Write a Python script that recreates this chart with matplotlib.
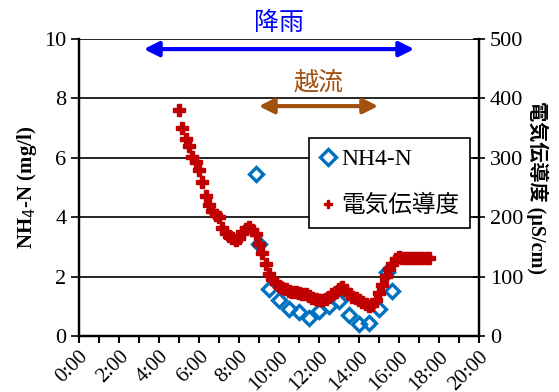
import matplotlib
matplotlib.use("Agg")
import matplotlib.pyplot as plt
from matplotlib.lines import Line2D

# 電気伝導度 (10分間隔)
ec_start = "5:00"
ec_values = [380, 350, 332, 320, 301, 293, 280, 259, 236, 221, 210, 204,
             200, 182, 173, 168, 165, 162, 165, 175, 180, 183, 178, 172,
             155, 140, 121, 104, 96, 89, 84, 81, 79, 76, 74, 74,
             72, 71, 71, 67, 64, 62, 61, 61, 62, 66, 71, 74,
             79, 82, 77, 71, 66, 64, 61, 57, 54, 50, 52, 61,
             72, 86, 101, 113, 121, 130, 133, 132, 132, 132, 132, 132,
             132, 132, 132, 132]

# NH4-N
nh4_times = ["8:50", "9:00", "9:30", "10:00", "10:30", "11:00", "11:30", "12:00",
             "12:30", "13:00", "13:30", "14:00", "14:30", "15:00", "15:25", "15:40"]
nh4_values = [5.44, 3.1, 1.57, 1.2, 0.92, 0.8, 0.6, 0.83,
              1.02, 1.19, 0.71, 0.4, 0.45, 0.9, 2.15, 1.5]

xtick_labels = ["0:00", "2:00", "4:00", "6:00", "8:00", "10:00",
                "12:00", "14:00", "16:00", "18:00", "20:00"]


def to_hours(s):
    h, m = s.split(":")
    return int(h) + int(m) / 60


t0 = to_hours(ec_start)
ec_t = [t0 + i / 6 for i in range(len(ec_values))]
nh4_t = [to_hours(s) for s in nh4_times]

serif = ["Liberation Serif", "Noto Sans CJK JP"]
cjk = ["Noto Sans CJK JP", "DejaVu Sans"]

fig = plt.figure(figsize=(5.59, 3.92), dpi=100)
ax = fig.add_axes([79 / 559, 1 - 336 / 392, 400 / 559, 297 / 392])
ax2 = ax.twinx()

ax.plot(nh4_t, nh4_values, linestyle="none", marker="D", ms=7.5, mfc="none",
        mec="#0070C0", mew=2.4, clip_on=False)
ax2.plot(ec_t, ec_values, linestyle="none", marker="P", ms=8,
         color="#C00000", mec="#C00000", clip_on=False)

ax.set_xlim(0, 20)
ax.set_ylim(0, 10)
ax2.set_ylim(0, 500)
ax.set_xticks(range(0, 21, 2))
ax.set_xticks(range(0, 21, 1), minor=True)
ax.set_xticklabels(xtick_labels, rotation=45, ha="right", rotation_mode="anchor",
                   family=serif, fontsize=15)
ax.set_yticks(range(0, 11, 2))
ax2.set_yticks(range(0, 501, 100))
for lab in ax.get_yticklabels() + ax2.get_yticklabels():
    lab.set_family(serif)
    lab.set_fontsize(16)

ax.grid(axis="y", color="black", lw=1.2)
ax.set_axisbelow(True)
ax.tick_params(axis="x", which="both", direction="out", length=5, width=1.5, pad=3)
ax.tick_params(axis="y", direction="out", length=6, width=1.2, pad=3)
ax2.tick_params(axis="y", direction="inout", length=8, width=1.2, pad=4)

for a in (ax, ax2):
    a.spines["top"].set_visible(False)
    for s in ("left", "right", "bottom"):
        a.spines[s].set_linewidth(1.6)

ax.set_ylabel("NH$_4$-N (mg/l)", family=serif, fontsize=15, fontweight="bold", labelpad=4)
ax2.set_ylabel("電気伝導度 (μS/cm)", family=serif, fontsize=14.5, fontweight="bold",
               rotation=270, labelpad=18)

# 降雨・越流の矢印
ax.annotate("", xy=(3.1, 9.66), xytext=(16.9, 9.66),
            arrowprops=dict(arrowstyle="<|-|>", color="#0000FF", lw=3, mutation_scale=22))
ax.text(10, 10.1, "降雨", color="#0000FF", family=cjk, fontsize=18,
        ha="center", va="bottom")
ax.annotate("", xy=(8.85, 7.74), xytext=(15.1, 7.74),
            arrowprops=dict(arrowstyle="<|-|>", color="#A0500F", lw=3, mutation_scale=22))
ax.text(11.95, 8.1, "越流", color="#A0500F", family=cjk, fontsize=18,
        ha="center", va="bottom")

handles = [
    Line2D([], [], linestyle="none", marker="D", ms=8, mfc="none", mec="#0070C0", mew=2.4),
    Line2D([], [], linestyle="none", marker="P", ms=5.5, color="#C00000"),
]
leg = ax2.legend(handles, ["NH4-N", "電気伝導度"], loc="upper left",
                 bbox_to_anchor=(0.575, 0.667), prop={"family": serif, "size": 17},
                 frameon=True, fancybox=False, framealpha=1, edgecolor="black",
                 handlelength=0.7, handletextpad=0.2, borderpad=0.45,
                 labelspacing=1.05, borderaxespad=0)
leg.get_frame().set_linewidth(1.2)

fig.savefig("out.png", dpi=100)
